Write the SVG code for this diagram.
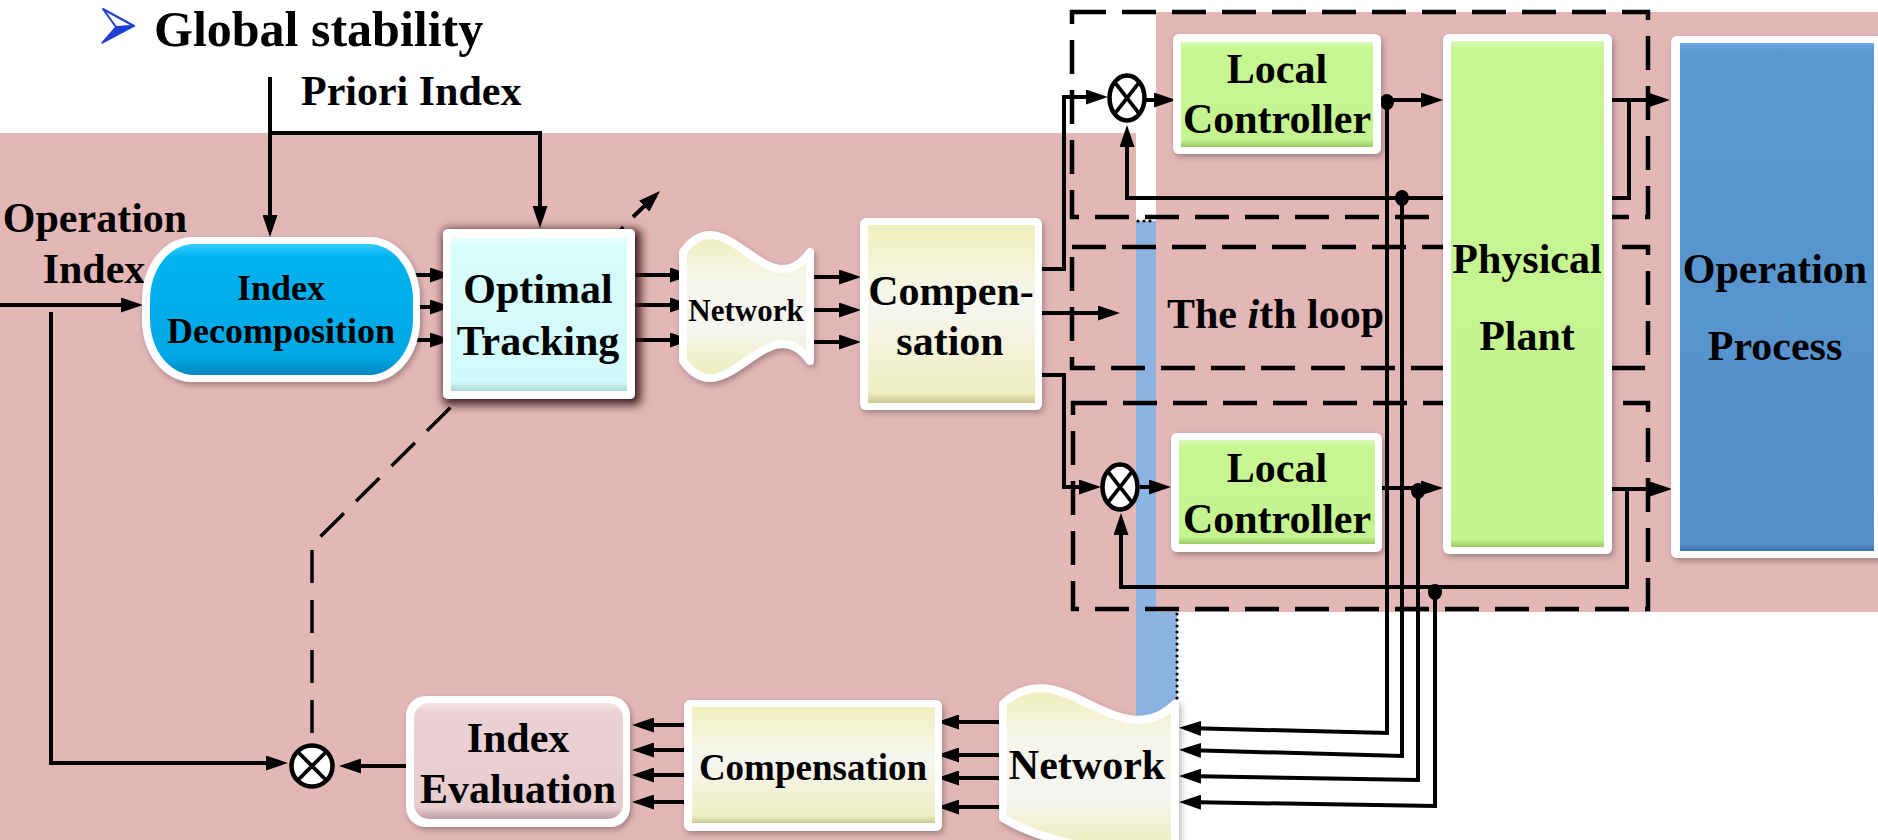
<svg xmlns="http://www.w3.org/2000/svg" width="1878" height="840" viewBox="0 0 1878 840">
  <defs>
    <style>
      .t { font-family: "Liberation Serif", "Times New Roman", serif; font-weight: bold; fill: #000; }
      .c { text-anchor: middle; }
      .f42 { font-size: 42px; }
      .wire { fill: none; stroke: #000; stroke-width: 4; stroke-linejoin: miter; }
      .arr { marker-end: url(#ah); }
      .dashbox { fill: none; stroke: #000; stroke-width: 4.5; stroke-dasharray: 34 16; }
      .dashline { fill: none; stroke: #000; stroke-width: 3.5; stroke-dasharray: 33 17; }
      .dots { fill: none; stroke: #000; stroke-width: 3.2; stroke-linecap: round; stroke-dasharray: 0 6; }
      .outer { fill: #fff; filter: url(#soft); }
      .mult ellipse { fill: #fff; stroke: #000; stroke-width: 4.5; }
      .mult path { fill: none; stroke: #000; stroke-width: 3.8; }
      .dot { fill: #000; }
    </style>
    <marker id="ah" viewBox="0 0 22 15" refX="16" refY="7.5" markerWidth="22" markerHeight="15" markerUnits="userSpaceOnUse" orient="auto">
      <path d="M0,0 L22,7.5 L0,15 z" fill="#000"/>
    </marker>
    <filter id="soft" x="-10%" y="-10%" width="125%" height="125%">
      <feDropShadow dx="2" dy="3" stdDeviation="3" flood-color="#000" flood-opacity="0.3"/>
    </filter>
    <filter id="dark" x="-20%" y="-20%" width="145%" height="145%">
      <feMorphology in="SourceAlpha" operator="dilate" radius="3" result="grow"/>
      <feGaussianBlur in="grow" stdDeviation="5" result="blur"/>
      <feOffset in="blur" dx="3" dy="3" result="off"/>
      <feFlood flood-color="#3a1a1a" flood-opacity="0.95"/>
      <feComposite in2="off" operator="in" result="shade"/>
      <feMerge>
        <feMergeNode in="shade"/>
        <feMergeNode in="SourceGraphic"/>
      </feMerge>
    </filter>
    <linearGradient id="gGreen" x1="0" y1="0" x2="0" y2="1">
      <stop offset="0" stop-color="#dcfbbd"/>
      <stop offset="0.06" stop-color="#c7f693"/>
      <stop offset="0.93" stop-color="#c4f48f"/>
      <stop offset="1" stop-color="#98c86a"/>
    </linearGradient>
    <linearGradient id="gGreenTall" x1="0" y1="0" x2="0" y2="1">
      <stop offset="0" stop-color="#dcfbbd"/>
      <stop offset="0.015" stop-color="#c7f693"/>
      <stop offset="0.985" stop-color="#c4f48f"/>
      <stop offset="1" stop-color="#98c86a"/>
    </linearGradient>
    <linearGradient id="gCyan" x1="0" y1="0" x2="0" y2="1">
      <stop offset="0" stop-color="#efffff"/>
      <stop offset="0.07" stop-color="#d6fcfc"/>
      <stop offset="0.94" stop-color="#d3fafa"/>
      <stop offset="1" stop-color="#a9d5d5"/>
    </linearGradient>
    <linearGradient id="gYellow" x1="0" y1="0" x2="0" y2="1">
      <stop offset="0" stop-color="#f1f1bd"/>
      <stop offset="0.45" stop-color="#f6f6f1"/>
      <stop offset="0.94" stop-color="#efefc1"/>
      <stop offset="1" stop-color="#c9c993"/>
    </linearGradient>
    <linearGradient id="gNet" x1="0" y1="0" x2="0" y2="1">
      <stop offset="0" stop-color="#efefbd"/>
      <stop offset="0.3" stop-color="#f5f5e8"/>
      <stop offset="0.65" stop-color="#f5f5f1"/>
      <stop offset="1" stop-color="#eeeeb9"/>
    </linearGradient>
    <linearGradient id="gRose" x1="0" y1="0" x2="0" y2="1">
      <stop offset="0" stop-color="#f7e4e6"/>
      <stop offset="0.08" stop-color="#ebd1d4"/>
      <stop offset="0.9" stop-color="#e8cdd0"/>
      <stop offset="1" stop-color="#bf9fa3"/>
    </linearGradient>
    <linearGradient id="gSky" x1="0" y1="0" x2="0" y2="1">
      <stop offset="0" stop-color="#36ccff"/>
      <stop offset="0.1" stop-color="#00b3ef"/>
      <stop offset="0.86" stop-color="#00a8e5"/>
      <stop offset="1" stop-color="#0087bf"/>
    </linearGradient>
    <linearGradient id="gBlue" x1="0" y1="0" x2="0" y2="1">
      <stop offset="0" stop-color="#6eaae6"/>
      <stop offset="0.015" stop-color="#5a98d2"/>
      <stop offset="0.985" stop-color="#5592cb"/>
      <stop offset="1" stop-color="#3e72a7"/>
    </linearGradient>
  </defs>

  <!-- backdrop panels -->
  <rect x="0" y="0" width="1878" height="840" fill="#fff"/>
  <rect x="0" y="133" width="1136" height="707" fill="#e4b7b7"/>
  <rect x="1136" y="221" width="41" height="619" fill="#8db3e2"/>
  <rect x="1156" y="12" width="722" height="600" fill="#e4b7b7"/>
  <path class="dots" d="M1138,221 H1156"/>
  <path class="dots" d="M1177,614 V840"/>

  <!-- heading -->
  <g id="heading">
    <path d="M103,9 L134,26 L116,27 Z" fill="#fff" stroke="#1f3fd6" stroke-width="2" stroke-linejoin="round"/>
    <path d="M116,27 L134,26 L102,43 Z" fill="#1f3fd6" stroke="#1f3fd6" stroke-width="1.5" stroke-linejoin="round"/>
    <text class="t" x="154" y="46" font-size="50">Global stability</text>
  </g>

  <!-- loop containers -->
  <g id="loop-1"><rect class="dashbox" x="1072" y="12" width="576" height="205"/></g>
  <g id="loop-i">
    <rect class="dashbox" x="1072" y="247" width="576" height="121"/>
    <text class="t f42" x="1167" y="328">The <tspan font-style="italic">i</tspan>th loop</text>
  </g>
  <g id="loop-n"><rect class="dashbox" x="1073" y="403" width="575" height="206"/></g>

  <!-- signal lines -->
  <g id="connectors">
    <path class="wire arr" d="M270,77 V231"/>
    <path class="wire arr" d="M270,133 H540 V222"/>
    <path class="wire arr" d="M0,305 H137"/>
    <path class="wire arr" d="M51,312 V763 H282"/>

    <path class="wire arr" d="M415,275 H446"/>
    <path class="wire arr" d="M415,307 H446"/>
    <path class="wire arr" d="M415,340 H446"/>

    <path class="wire arr" d="M635,275 H686"/>
    <path class="wire arr" d="M635,305 H686"/>
    <path class="wire arr" d="M635,340 H686"/>

    <path class="wire arr" d="M809,277 H855"/>
    <path class="wire arr" d="M809,310 H855"/>
    <path class="wire arr" d="M809,342 H855"/>

    <path class="wire arr" d="M1042,269 H1064 V97 H1102"/>
    <path class="wire arr" d="M1042,313 H1114"/>
    <path class="wire arr" d="M1035,375 H1064 V487 H1095"/>

    <path class="wire arr" d="M1146,100 H1170"/>
    <path class="wire arr" d="M1381,100 H1437"/>
    <path class="wire arr" d="M1612,100 H1664"/>
    <path class="wire arr" d="M1629,100 V198 H1127 V131"/>
    <path class="wire arr" d="M1387,102 V733 L1185,728"/>
    <path class="wire arr" d="M1402,198 V756 L1185,750"/>

    <path class="wire arr" d="M1140,487 H1165"/>
    <path class="wire arr" d="M1382,488 H1437"/>
    <path class="wire arr" d="M1612,489 H1666"/>
    <path class="wire arr" d="M1627,489 V587 H1121 V519"/>
    <path class="wire arr" d="M1418,491 V780 L1185,776"/>
    <path class="wire arr" d="M1435,592 V806 L1185,802"/>

    <path class="wire arr" d="M1000,722 H943"/>
    <path class="wire arr" d="M1000,755 H943"/>
    <path class="wire arr" d="M1000,778 H943"/>
    <path class="wire arr" d="M1000,807 H943"/>

    <path class="wire arr" d="M684,725 H638"/>
    <path class="wire arr" d="M684,750 H638"/>
    <path class="wire arr" d="M684,775 H638"/>
    <path class="wire arr" d="M684,802 H638"/>

    <path class="wire arr" d="M406,766 H345"/>

    <path class="dashline" d="M312,733 V545 L446,412 L633,217"/>
    <path class="wire arr" d="M633,217 L655.7,195.1"/>

    <ellipse class="dot" cx="1387" cy="102" rx="7" ry="8"/>
    <ellipse class="dot" cx="1402" cy="198" rx="7" ry="8"/>
    <ellipse class="dot" cx="1418" cy="491" rx="7" ry="8"/>
    <ellipse class="dot" cx="1435" cy="592" rx="7" ry="8"/>
  </g>

  <!-- input labels -->
  <g id="priori-index">
    <text class="t f42" x="301" y="105">Priori Index</text>
  </g>
  <g id="operation-index">
    <text class="t f42 c" x="95" y="232">Operation</text>
    <text class="t f42 c" x="94" y="283">Index</text>
  </g>

  <!-- summing junctions -->
  <g id="sum-top" class="mult">
    <ellipse cx="1127" cy="98" rx="17.5" ry="22.5"/>
    <path d="M1114.6,82.1 L1139.4,113.9 M1139.4,82.1 L1114.6,113.9"/>
  </g>
  <g id="sum-bottom" class="mult">
    <ellipse cx="1120" cy="487" rx="17.5" ry="22.5"/>
    <path d="M1107.6,471.1 L1132.4,502.9 M1132.4,471.1 L1107.6,502.9"/>
  </g>
  <g id="sum-index" class="mult">
    <ellipse cx="312" cy="766" rx="20.5" ry="20.5"/>
    <path d="M297.5,751.5 L326.5,780.5 M326.5,751.5 L297.5,780.5"/>
  </g>

  <!-- blocks -->
  <g id="index-decomposition">
    <rect class="outer" x="142" y="237" width="278" height="145" rx="50" ry="62"/>
    <rect x="150" y="244" width="263" height="131" rx="44" ry="56" fill="url(#gSky)"/>
    <text class="t c" x="281" y="300" font-size="36">Index</text>
    <text class="t c" x="281" y="343" font-size="36">Decomposition</text>
  </g>

  <g id="optimal-tracking">
    <rect x="443" y="229" width="192" height="170" rx="5" fill="#fff" filter="url(#dark)"/>
    <rect x="451" y="237" width="176" height="154" fill="url(#gCyan)"/>
    <text class="t f42 c" x="538" y="303">Optimal</text>
    <text class="t f42 c" x="538" y="355">Tracking</text>
  </g>

  <g id="network-forward">
    <path d="M683,252 C725.3,193 767.7,311 810,252 L810,361 C767.7,302 725.3,420 683,361 Z" fill="url(#gNet)" stroke="#fff" stroke-width="8" stroke-linejoin="round" filter="url(#soft)"/>
    <text class="t c" x="746" y="321" font-size="31">Network</text>
  </g>

  <g id="compensation-forward">
    <rect class="outer" x="860" y="218" width="182" height="192" rx="6"/>
    <rect x="868" y="225" width="167" height="178" fill="url(#gYellow)"/>
    <text class="t f42 c" x="951" y="305">Compen-</text>
    <text class="t f42 c" x="950" y="355">sation</text>
  </g>

  <g id="local-controller-1">
    <rect class="outer" x="1173" y="34" width="208" height="120" rx="6"/>
    <rect x="1181" y="42" width="192" height="105" fill="url(#gGreen)"/>
    <text class="t f42 c" x="1277" y="83">Local</text>
    <text class="t f42 c" x="1277" y="133">Controller</text>
  </g>

  <g id="local-controller-n">
    <rect class="outer" x="1171" y="433" width="211" height="119" rx="6"/>
    <rect x="1179" y="440" width="196" height="104" fill="url(#gGreen)"/>
    <text class="t f42 c" x="1277" y="482">Local</text>
    <text class="t f42 c" x="1277" y="533">Controller</text>
  </g>

  <g id="physical-plant">
    <rect class="outer" x="1443" y="34" width="169" height="520" rx="6"/>
    <rect x="1451" y="41" width="153" height="506" fill="url(#gGreenTall)"/>
    <text class="t f42 c" x="1527" y="273">Physical</text>
    <text class="t f42 c" x="1527" y="350">Plant</text>
  </g>

  <g id="operation-process">
    <rect class="outer" x="1671" y="36" width="215" height="522" rx="6"/>
    <rect x="1680" y="43" width="194" height="508" fill="url(#gBlue)"/>
    <text class="t f42 c" x="1775" y="283">Operation</text>
    <text class="t f42 c" x="1775" y="360">Process</text>
  </g>

  <g id="network-feedback">
    <path d="M1003,704 C1060.3,649 1117.7,759 1175,704 L1175,852 C1110,852 1050,846 1003,818 Z" fill="url(#gNet)" stroke="#fff" stroke-width="8" stroke-linejoin="round" filter="url(#soft)"/>
    <text class="t f42 c" x="1087" y="779">Network</text>
  </g>

  <g id="compensation-feedback">
    <rect class="outer" x="684" y="700" width="258" height="131" rx="6"/>
    <rect x="692" y="707" width="243" height="116" fill="url(#gYellow)"/>
    <text class="t c" x="813" y="780" font-size="37">Compensation</text>
  </g>

  <g id="index-evaluation">
    <rect class="outer" x="406" y="696" width="224" height="131" rx="20"/>
    <rect x="414" y="703" width="209" height="116" rx="15" fill="url(#gRose)"/>
    <text class="t f42 c" x="518" y="752">Index</text>
    <text class="t f42 c" x="518" y="803">Evaluation</text>
  </g>
</svg>
